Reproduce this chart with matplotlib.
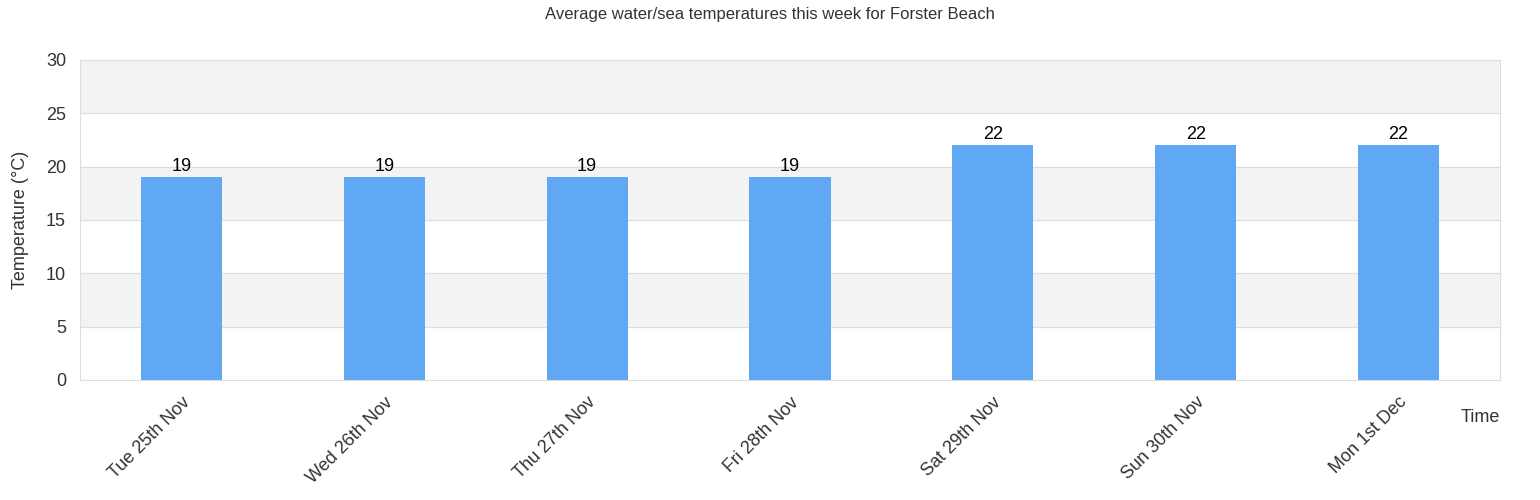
import matplotlib.pyplot as plt
import matplotlib.transforms as mtransforms

plt.rcParams['font.family'] = ['Liberation Sans', 'DejaVu Sans']

days = ['Tue 25th Nov', 'Wed 26th Nov', 'Thu 27th Nov', 'Fri 28th Nov',
        'Sat 29th Nov', 'Sun 30th Nov', 'Mon 1st Dec']
temps = [19, 19, 19, 19, 22, 22, 22]

fig = plt.figure(figsize=(15.4, 5), dpi=100)
ax = fig.add_axes([80 / 1540, 120 / 500, 1420 / 1540, 320 / 500])

# alternating bands
for lo in (5, 15, 25):
    ax.axhspan(lo, lo + 5, color='#f3f3f3', zorder=0)
for y in range(0, 31, 5):
    ax.axhline(y, color='#dddddd', lw=0.8, zorder=0.5)

x = range(len(days))
bars = ax.bar(x, temps, width=0.4, color='#60a8f4', zorder=2)
for b, t in zip(bars, temps):
    ax.text(b.get_x() + b.get_width() / 2, t + 0.2, str(t),
            ha='center', va='bottom', fontsize=13, color='black')

ax.set_xlim(-0.5, 6.5)
ax.set_ylim(0, 30)
ax.set_yticks(range(0, 31, 5))
ax.set_xticks(list(x))
ax.set_xticklabels(days, rotation=45, ha='right', rotation_mode='anchor', fontsize=13, color='#333333')
shift = mtransforms.ScaledTranslation(0.32, 0, fig.dpi_scale_trans)
for lab in ax.get_xticklabels():
    lab.set_transform(lab.get_transform() + shift)
ax.tick_params(axis='y', labelsize=13, colors='#333333', length=0, pad=10)
ax.tick_params(axis='x', length=0, pad=10)
for s in ax.spines.values():
    s.set_color('#dddddd')

ax.set_ylabel('Temperature (°C)', fontsize=13, color='#333333', labelpad=12)
fig.text(1500 / 1540, 1 - 418 / 500, 'Time', ha='right', va='center', fontsize=13, color='#333333')
fig.suptitle('Average water/sea temperatures this week for Forster Beach',
             y=0.985, fontsize=12, color='#333333')

fig.savefig('out.png')
